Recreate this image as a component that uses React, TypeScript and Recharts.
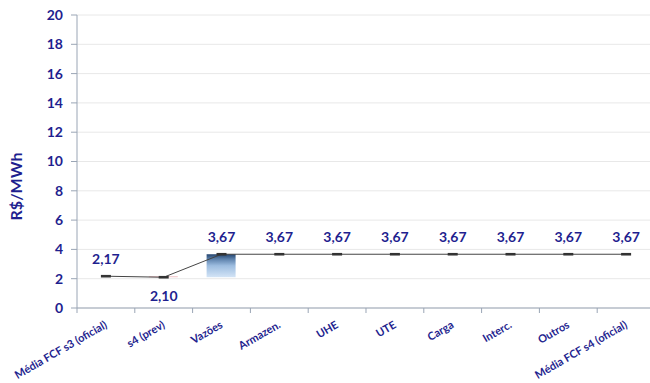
import React from 'react';
import { ComposedChart, Bar, Line, XAxis, YAxis, CartesianGrid, LabelList } from 'recharts';

const categories = ['Média FCF s3 (oficial)', 's4 (prev)', 'Vazões', 'Armazen.', 'UHE', 'UTE', 'Carga', 'Interc.', 'Outros', 'Média FCF s4 (oficial)'];
const values = [2.17, 2.10, 3.67, 3.67, 3.67, 3.67, 3.67, 3.67, 3.67, 3.67];
const yTicks = [0, 2, 4, 6, 8, 10, 12, 14, 16, 18, 20];

const NAVY = '#1F1F8F';
const FONT = 'Lato, "Open Sans", sans-serif';

const data = categories.map((name, i) => {
  const isTotal = i === 0 || i === categories.length - 1;
  const prev = i > 0 ? values[i - 1] : values[i];
  const cur = values[i];
  return {
    name,
    value: cur,
    base: isTotal ? 0 : Math.min(prev, cur),
    up: isTotal ? 0 : Math.max(cur - prev, 0),
    down: isTotal ? 0 : Math.max(prev - cur, 0),
    below: !isTotal && cur < prev,
  };
});

const fmt = (v: number) => v.toFixed(2).replace('.', ',');

const XTick = (props: any) => {
  const { x, y, payload } = props;
  const band = 578 / categories.length;
  return (
    <g transform={`translate(${x}, ${y})`}>
      <line x1={-band / 2} x2={-band / 2} y1={-8} y2={-3} stroke="#9aa5b5" />
      <text
        x={0}
        y={0}
        transform="translate(2, 11) rotate(-30)"
        textAnchor="end"
        fill={NAVY}
        fontSize={11}
        fontWeight="bold"
        fontFamily={FONT}
      >
        {payload.value}
      </text>
    </g>
  );
};

const Dash = (props: any) => {
  const { cx, cy } = props;
  if (cx == null || cy == null) return null;
  return <rect x={cx - 5} y={cy - 1.3} width={10} height={2.6} fill="#333" />;
};

const ValueLabel = (props: any) => {
  const { x, y, value, index } = props;
  const below = data[index].below;
  return (
    <text
      x={x}
      y={below ? y + 24 : y - 12}
      textAnchor="middle"
      fill={NAVY}
      fontSize={14}
      fontWeight="bold"
      fontFamily={FONT}
    >
      {fmt(value)}
    </text>
  );
};

const YLabel = (props: any) => {
  const { viewBox } = props;
  const cy = viewBox.y + viewBox.height / 2 + 25;
  return (
    <text
      x={22}
      y={cy}
      transform={`rotate(-90, 22, ${cy})`}
      textAnchor="middle"
      fill={NAVY}
      fontSize={16}
      fontWeight="bold"
      fontFamily={FONT}
    >
      R$/MWh
    </text>
  );
};

export default function App() {
  return (
    <div style={{ position: 'fixed', left: 0, top: 0, width: 650, height: 383, overflow: 'hidden', background: '#fff' }}>
      <ComposedChart
        width={660}
        height={383}
        data={data}
        margin={{ top: 15, right: 5, left: 0, bottom: 0 }}
        barCategoryGap={0}
      >
        <defs>
          <linearGradient id="upGrad" x1="0" y1="0" x2="0" y2="1">
            <stop offset="0%" stopColor="#24446E" />
            <stop offset="20%" stopColor="#5A7FAA" />
            <stop offset="50%" stopColor="#9DBDE0" />
            <stop offset="100%" stopColor="#D3E4F6" />
          </linearGradient>
        </defs>
        <CartesianGrid horizontal vertical={false} stroke="#e8e8e8" />
        <XAxis
          dataKey="name"
          interval={0}
          height={75}
          axisLine={{ stroke: '#9aa5b5' }}
          tickLine={false}
          tick={<XTick />}
        />
        <YAxis
          domain={[0, 20]}
          ticks={yTicks}
          width={77}
          tickSize={6}
          tickMargin={8}
          axisLine={{ stroke: '#9aa5b5' }}
          tickLine={{ stroke: '#9aa5b5' }}
          tick={{ fill: NAVY, fontSize: 14, fontWeight: 'bold', fontFamily: FONT }}
          label={<YLabel />}
        />
        <Bar dataKey="base" stackId="w" fill="transparent" barSize={29} isAnimationActive={false} />
        <Bar dataKey="up" stackId="w" fill="url(#upGrad)" barSize={29} isAnimationActive={false} />
        <Bar dataKey="down" stackId="w" fill="#F2C4C8" barSize={29} isAnimationActive={false} />
        <Line
          dataKey="value"
          type="linear"
          stroke="#444"
          strokeWidth={1}
          dot={<Dash />}
          activeDot={false}
          isAnimationActive={false}
        >
          <LabelList dataKey="value" content={<ValueLabel />} />
        </Line>
      </ComposedChart>
    </div>
  );
}
